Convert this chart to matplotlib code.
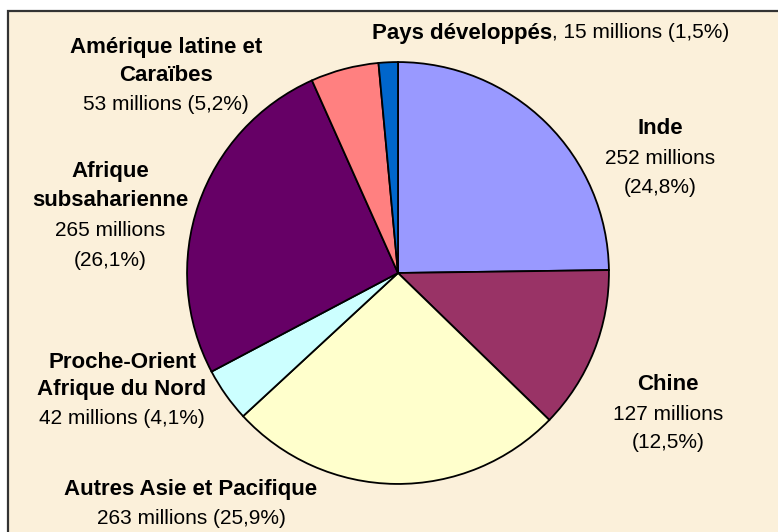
import matplotlib
matplotlib.use("Agg")
import matplotlib.pyplot as plt
from matplotlib.patches import Rectangle

# ---- data ----
regions = ["Inde", "Chine", "Autres Asie et Pacifique", "Proche-Orient Afrique du Nord",
           "Afrique subsaharienne", "Amérique latine et Caraïbes", "Pays développés"]
millions = [252, 127, 263, 42, 265, 53, 15]
percents = ["24,8", "12,5", "25,9", "4,1", "26,1", "5,2", "1,5"]
colors = ["#9999FF", "#993366", "#FFFFCC", "#CCFFFF", "#660066", "#FF8080", "#0066CC"]

W, H = 778, 532
fig = plt.figure(figsize=(W / 100, H / 100), dpi=100)
fig.patch.set_facecolor("white")

def fx(x):
    return x / W

def fy(y):
    return 1 - y / H

# parchment frame
bg = Rectangle((fx(8), -0.01), 1.0, fy(11) + 0.01, transform=fig.transFigure,
               facecolor="#FBF0DA", edgecolor="#333333", linewidth=1.6, zorder=-10)
fig.patches.append(bg)

# pie axes
cx, cy, r = 398, 273, 212
ax = fig.add_axes([fx(cx - r), fy(cy + r), 2 * r / W, 2 * r / H])
ax.set_zorder(5)
ax.set_facecolor("none")
ax.pie(millions, colors=colors, startangle=90, counterclock=False,
       wedgeprops=dict(edgecolor="black", linewidth=1.3))
ax.set_xlim(-1.005, 1.005)
ax.set_ylim(-1.005, 1.005)
ax.set_aspect("equal")
ax.axis("off")

FS_R = 15
FS_B = 16
fam = ["Liberation Sans", "DejaVu Sans"]

def lab(x, y, txt, bold=False):
    fig.text(fx(x), fy(y), txt, ha="center", va="center",
             fontsize=FS_B if bold else FS_R,
             fontweight="bold" if bold else "normal", family=fam, zorder=10)

def mtxt(i):
    return f"{millions[i]} millions"

# Inde
lab(660, 128, "Inde", True)
lab(660, 158, mtxt(0))
lab(660, 188, f"({percents[0]}%)")
# Chine
lab(668, 385, "Chine", True)
lab(668, 414, mtxt(1))
lab(668, 443, f"({percents[1]}%)")
# Autres Asie
lab(191, 489, "Autres Asie et Pacifique", True)
lab(191, 519, f"{mtxt(2)} ({percents[2]}%)")
# Proche-Orient
lab(122, 362, "Proche-Orient", True)
lab(122, 390, "Afrique du Nord", True)
lab(122, 418, f"{mtxt(3)} ({percents[3]}%)")
# Afrique subsaharienne
lab(110, 172, "Afrique", True)
lab(110, 201, "subsaharienne", True)
lab(110, 230, mtxt(4))
lab(110, 260, f"({percents[4]}%)")
# Amérique latine
lab(166, 47, "Amérique latine et", True)
lab(166, 76, "Caraïbes", True)
lab(166, 104, f"{mtxt(5)} ({percents[5]}%)")
# Pays développés
t1 = fig.text(fx(372), fy(33), "Pays développés", ha="left", va="center",
              fontsize=FS_B, fontweight="bold", family=fam, zorder=10)
fig.canvas.draw()
bb = t1.get_window_extent()
fig.text(bb.x1 / W, fy(33), f", {mtxt(6)} ({percents[6]}%)", ha="left", va="center",
         fontsize=FS_R, family=fam, zorder=10)

fig.savefig("out.png", dpi=100)
